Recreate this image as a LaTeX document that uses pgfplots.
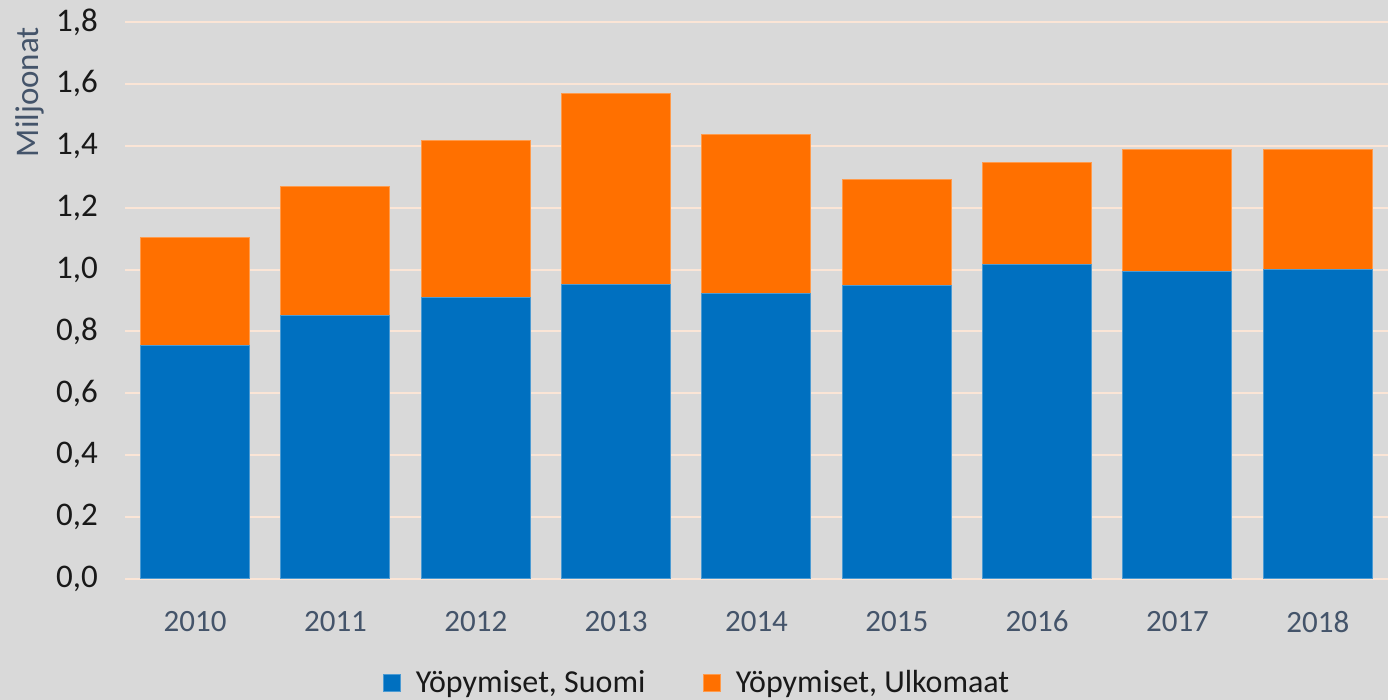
\documentclass[border=0pt]{standalone}
\usepackage{pgfplots}
\pgfplotsset{compat=1.18}
\usepackage{fontspec}
\setmainfont{Carlito}
\definecolor{bg}{HTML}{D9D9D9}
\definecolor{gridc}{HTML}{FBE5D6}
\definecolor{cblue}{HTML}{0070C0}
\definecolor{corange}{HTML}{FF7000}
\definecolor{slate}{HTML}{44546A}
\begin{document}
\begin{tikzpicture}
\fill[bg] (-62.5pt,-60.5pt) rectangle (631.5pt,289.5pt);
\useasboundingbox (-62.5pt,-60.5pt) rectangle (631.5pt,289.5pt);
\begin{axis}[
  at={(0,0)}, anchor=south west,
  scale only axis, width=631.5pt, height=278.5pt,
  ybar stacked, bar width=54.5pt,
  xmin=-0.5, xmax=8.5, ymin=0, ymax=1.8,
  xtick={0,...,8},
  xticklabels={2010,2011,2012,2013,2014,2015,2016,2017,2018},
  ytick={0,0.2,...,1.8},
  /pgf/number format/fixed,
  /pgf/number format/fixed zerofill,
  /pgf/number format/precision=1,
  /pgf/number format/use comma,
  /pgf/number format/assume math mode=true,
  tick label style={font=\fontsize{15.5}{18}\selectfont},
  yticklabel style={text=black!90, xshift=-10pt, font=\fontsize{16.5}{19}\selectfont},
  xticklabel style={text=slate, yshift=-12.5pt},
  axis line style={draw=none},
  major tick length=0pt,
  ymajorgrids, grid style={gridc, line width=1pt},
  axis background/.style={fill=bg},
  ylabel={Miljoonat},
  ylabel style={at={(axis description cs:-0.0752,0.874)}, anchor=center, text=slate, font=\fontsize{16.5}{19}\selectfont},
  legend style={at={(axis description cs:0.1995,-0.187)}, anchor=west, draw=none, fill=none,
    legend columns=2, font=\fontsize{16}{19}\selectfont, text=black!90,
    /tikz/every even column/.append style={column sep=27pt}},
  legend image code/.code={\fill[#1] (0pt,-4.25pt) rectangle (8.5pt,4.25pt); \path[draw=none,fill=none] (8.5pt,0pt) -- (14pt,0pt);},
]
\addplot[fill=cblue, draw=cblue!70!white, line width=0.5pt] coordinates {
(0,0.756) (1,0.850) (2,0.911) (3,0.953) (4,0.921) (5,0.950) (6,1.015) (7,0.995) (8,0.999)};
\addlegendentry{Yöpymiset, Suomi}
\addplot[fill=corange, draw=corange!70!white, line width=0.5pt] coordinates {
(0,0.346) (1,0.417) (2,0.505) (3,0.615) (4,0.517) (5,0.340) (6,0.330) (7,0.392) (8,0.388)};
\addlegendentry{Yöpymiset, Ulkomaat}
\end{axis}
\end{tikzpicture}
\end{document}
